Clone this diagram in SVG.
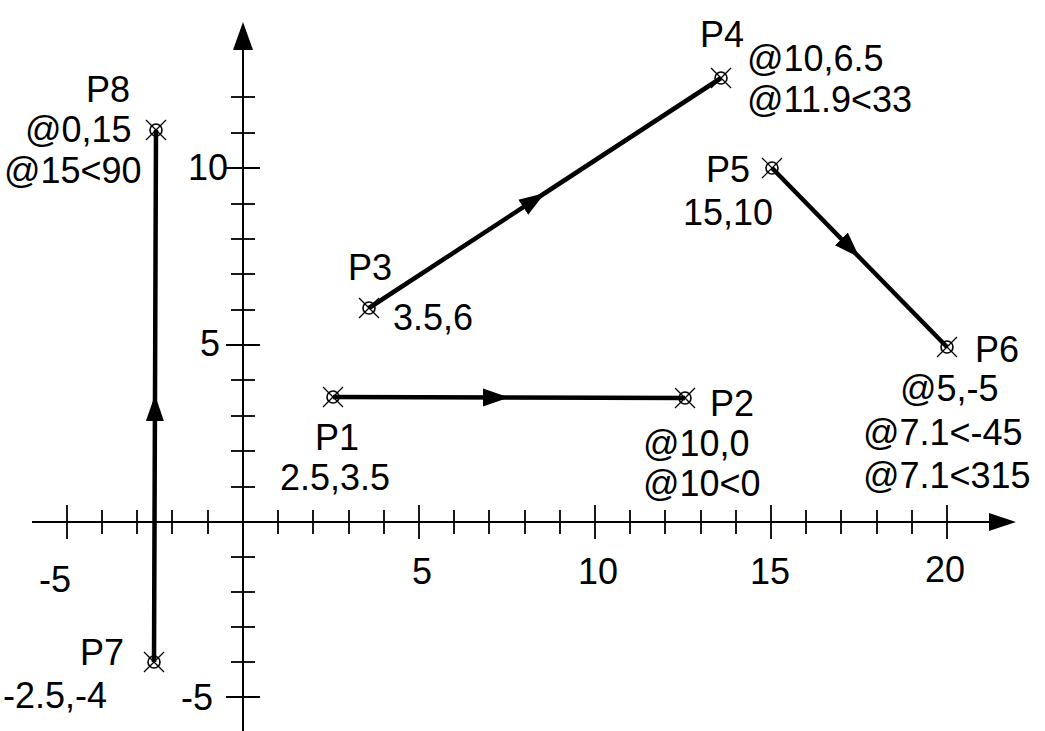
<svg xmlns="http://www.w3.org/2000/svg" width="1045" height="731" viewBox="0 0 1045 731">
<style>
text{font-family:"Liberation Sans",Arial,Helvetica,sans-serif;font-size:36px;fill:#000}
.ax{stroke:#000;stroke-width:2;fill:none}
.tk{stroke:#000;stroke-width:1.8}
.seg{stroke:#000;stroke-width:4.5;fill:none;marker-mid:url(#ah)}
.pc{fill:none;stroke:#000;stroke-width:1.6}
.px{stroke:#000;stroke-width:1.2}
</style>
<defs>
<marker id="ah" markerUnits="userSpaceOnUse" markerWidth="30" markerHeight="22" refX="26" refY="11" orient="auto"><path d="M0,2 L26,11 L0,20 Z" fill="#000"/></marker>
<g id="pt"><circle r="6" class="pc"/><line x1="-10" y1="-10" x2="10" y2="10" class="px"/><line x1="-10" y1="10" x2="10" y2="-10" class="px"/></g>
</defs>
<rect width="1045" height="731" fill="#fff"/>
<g id="axes">
<line class="ax" x1="32" y1="522" x2="992" y2="522"/>
<polygon points="989,513 1016,522 989,531" fill="#000"/>
<line class="ax" x1="243" y1="731" x2="243" y2="48"/>
<polygon points="233,50 243,22 253,50" fill="#000"/>
<g class="tk">
<line x1="67" y1="505" x2="67" y2="539"/><line x1="102" y1="510" x2="102" y2="534"/><line x1="137" y1="510" x2="137" y2="534"/><line x1="172" y1="510" x2="172" y2="534"/><line x1="208" y1="510" x2="208" y2="534"/>
<line x1="278" y1="510" x2="278" y2="534"/><line x1="313" y1="510" x2="313" y2="534"/><line x1="349" y1="510" x2="349" y2="534"/><line x1="384" y1="510" x2="384" y2="534"/><line x1="419" y1="505" x2="419" y2="539"/>
<line x1="454" y1="510" x2="454" y2="534"/><line x1="489" y1="510" x2="489" y2="534"/><line x1="525" y1="510" x2="525" y2="534"/><line x1="560" y1="510" x2="560" y2="534"/><line x1="595" y1="505" x2="595" y2="539"/>
<line x1="630" y1="510" x2="630" y2="534"/><line x1="665" y1="510" x2="665" y2="534"/><line x1="701" y1="510" x2="701" y2="534"/><line x1="736" y1="510" x2="736" y2="534"/><line x1="771" y1="505" x2="771" y2="539"/>
<line x1="806" y1="510" x2="806" y2="534"/><line x1="841" y1="510" x2="841" y2="534"/><line x1="877" y1="510" x2="877" y2="534"/><line x1="912" y1="510" x2="912" y2="534"/><line x1="947" y1="505" x2="947" y2="539"/>
<line x1="231" y1="557" x2="255" y2="557"/><line x1="231" y1="592" x2="255" y2="592"/><line x1="231" y1="627" x2="255" y2="627"/><line x1="231" y1="662" x2="255" y2="662"/><line x1="226" y1="697" x2="260" y2="697"/>
<line x1="231" y1="487" x2="255" y2="487"/><line x1="231" y1="451" x2="255" y2="451"/><line x1="231" y1="416" x2="255" y2="416"/><line x1="231" y1="380" x2="255" y2="380"/><line x1="226" y1="345" x2="260" y2="345"/>
<line x1="231" y1="310" x2="255" y2="310"/><line x1="231" y1="274" x2="255" y2="274"/><line x1="231" y1="239" x2="255" y2="239"/><line x1="231" y1="204" x2="255" y2="204"/><line x1="226" y1="168" x2="260" y2="168"/>
<line x1="231" y1="133" x2="255" y2="133"/><line x1="231" y1="97" x2="255" y2="97"/>
</g>
<text transform="translate(39,592) scale(1,1.04)">-5</text>
<text transform="translate(412,584) scale(1,1.04)">5</text>
<text transform="translate(578,584) scale(1,1.04)">10</text>
<text transform="translate(750,584) scale(1,1.04)">15</text>
<text transform="translate(925,582) scale(1,1.04)">20</text>
<text transform="translate(188,180) scale(1,1.04)">10</text>
<text transform="translate(200,356) scale(1,1.04)">5</text>
<text transform="translate(181,710) scale(1,1.04)">-5</text>
</g>
<g id="connectors">
<path class="seg" d="M333,397 L509,397.5 L685,398"/>
<path class="seg" d="M369,308 L545,193 L721,78"/>
<path class="seg" d="M772,168 L859.5,257.5 L947,347"/>
<path class="seg" d="M154,662 L155,395 L156,130"/>
</g>
<g id="P1"><use href="#pt" x="333" y="397"/><text transform="translate(315,450) scale(1,1.04)">P1</text><text transform="translate(280,490) scale(1,1.04)">2.5,3.5</text></g>
<g id="P2"><use href="#pt" x="685" y="398"/><text transform="translate(710,416) scale(1,1.04)">P2</text><text transform="translate(643,456) scale(1,1.04)">@10,0</text><text transform="translate(643,496) scale(1,1.04)">@10&lt;0</text></g>
<g id="P3"><use href="#pt" x="369" y="308"/><text transform="translate(348,280) scale(1,1.04)">P3</text><text transform="translate(393,330) scale(1,1.04)">3.5,6</text></g>
<g id="P4"><use href="#pt" x="721" y="78"/><text transform="translate(700,47) scale(1,1.04)">P4</text><text transform="translate(747,71) scale(1,1.04)">@10,6.5</text><text transform="translate(747,112) scale(1,1.04)">@11.9&lt;33</text></g>
<g id="P5"><use href="#pt" x="772" y="168"/><text transform="translate(706,182) scale(1,1.04)">P5</text><text transform="translate(683,225) scale(1,1.04)">15,10</text></g>
<g id="P6"><use href="#pt" x="947" y="347"/><text transform="translate(975,362) scale(1,1.04)">P6</text><text transform="translate(900,401) scale(1,1.04)">@5,-5</text><text transform="translate(863,445) scale(1,1.04)">@7.1&lt;-45</text><text transform="translate(863,488) scale(1,1.04)">@7.1&lt;315</text></g>
<g id="P7"><use href="#pt" x="154" y="662"/><text transform="translate(80,665) scale(1,1.04)">P7</text><text transform="translate(3,708) scale(1,1.04)">-2.5,-4</text></g>
<g id="P8"><use href="#pt" x="156" y="130"/><text transform="translate(86,102) scale(1,1.04)">P8</text><text transform="translate(25,142) scale(1,1.04)">@0,15</text><text transform="translate(4,183) scale(1,1.04)">@15&lt;90</text></g>
</svg>
